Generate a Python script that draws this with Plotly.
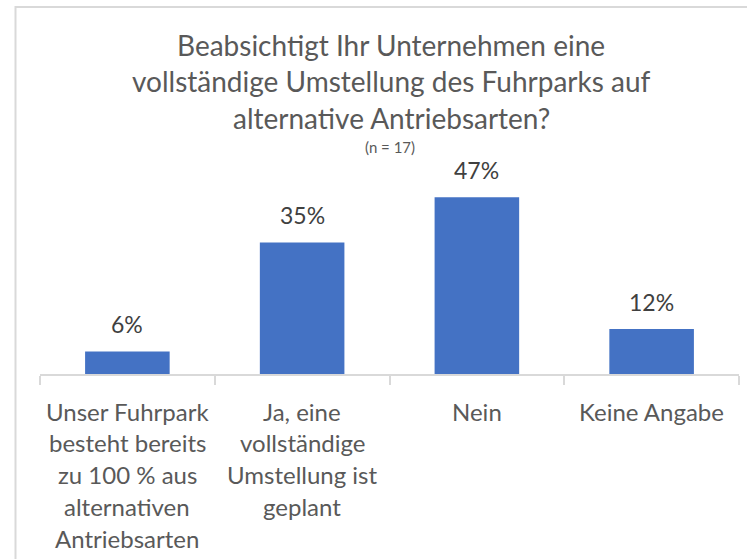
import plotly.graph_objects as go

# ---- data ----
categories = [
    "Unser Fuhrpark<br>besteht bereits<br>zu 100 % aus<br>alternativen<br>Antriebsarten",
    "Ja, eine<br>vollständige<br>Umstellung ist<br>geplant",
    "Nein",
    "Keine Angabe",
]
values = [6, 35, 47, 12]
title_lines = [
    "Beabsichtigt Ihr Unternehmen eine",
    "vollständige Umstellung des Fuhrparks auf",
    "alternative Antriebsarten?",
]
subtitle = "(n = 17)"

# ---- style ----
FONT = "Lato"
BAR = "#4472C4"
TXT = "#595959"
LBL = "#404040"
GRID = "#d9d9d9"

W, H = 747, 559
L, R, T, B = 40, 8, 186, 185
plot_h = H - T - B
plot_w = W - L - R

def py(ypix):
    return (H - B - ypix) / plot_h

def px(xpix):
    return (xpix - L) / plot_w

fig = go.Figure()
fig.add_trace(go.Bar(
    x=categories, y=values, marker_color=BAR, marker_line_width=0,
    hoverinfo="skip",
))

annotations = []
# value labels
for c, v in zip(categories, values):
    annotations.append(dict(
        x=c, y=v, xref="x", yref="y", text=f"{v}%", showarrow=False,
        yanchor="middle", yshift=27,
        font=dict(family=FONT, size=23, color=LBL),
    ))
# category labels (one annotation per line for Excel-like spacing)
for c in categories:
    for i, line in enumerate(c.split("<br>")):
        annotations.append(dict(
            x=c, y=0, xref="x", yref="y", text=line, showarrow=False,
            yanchor="middle", yshift=-(37 + 31.8 * i),
            font=dict(family=FONT, size=24, color=TXT),
        ))
# title
for i, line in enumerate(title_lines):
    annotations.append(dict(
        x=px(391), y=py(45 + 36.5 * i), xref="paper", yref="paper",
        text=line, showarrow=False, yanchor="middle", xanchor="center",
        font=dict(family=FONT, size=28, color=TXT),
    ))
annotations.append(dict(
    x=px(390), y=py(147), xref="paper", yref="paper", text=subtitle,
    showarrow=False, yanchor="middle", xanchor="center",
    font=dict(family=FONT, size=15, color=TXT),
))

fig.update_layout(
    width=W, height=H,
    margin=dict(l=L, r=R, t=T, b=B, pad=0),
    paper_bgcolor="white", plot_bgcolor="white",
    showlegend=False, bargap=0.516,
    annotations=annotations,
    shapes=[dict(
        type="rect", xref="paper", yref="paper",
        x0=px(15.5), x1=px(780), y0=py(600), y1=py(7),
        line=dict(color=GRID, width=2), fillcolor="rgba(0,0,0,0)", layer="below",
    )],
)
fig.update_xaxes(
    showline=True, linecolor=GRID, linewidth=1.5,
    ticks="outside", tickson="boundaries", ticklen=9, tickcolor=GRID, tickwidth=1.5,
    showticklabels=False, showgrid=False, zeroline=False, fixedrange=True,
)
fig.update_yaxes(
    range=[0, 50], visible=False, showgrid=False, zeroline=False, fixedrange=True,
)

fig.write_html(
    "out.html",
    config={"displayModeBar": False},
    post_script="document.body.style.margin='0';document.body.style.overflow='hidden';",
)
